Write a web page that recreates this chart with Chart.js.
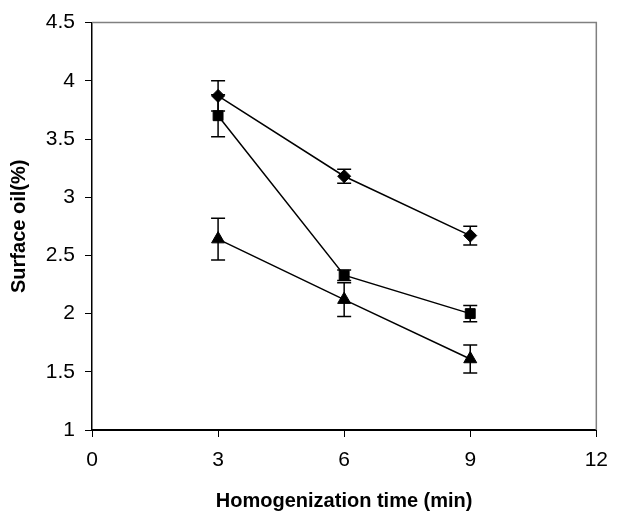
<!DOCTYPE html>
<html>
<head>
<meta charset="utf-8">
<script src="https://cdn.jsdelivr.net/npm/chart.js@4.4.1/dist/chart.umd.min.js"></script>
<style>
  html, body { margin: 0; padding: 0; background: #fff; }
  #wrap { width: 619px; height: 515px; }
</style>
</head>
<body>
<div id="wrap"><canvas id="surfaceChart" width="619" height="515"></canvas></div>
<script>
const times = [3, 6, 9];
const xTickValues = [0, 3, 6, 9, 12];
const yTickValues = [1, 1.5, 2, 2.5, 3, 3.5, 4, 4.5];

const diamondOil = [3.87, 3.18, 2.67];
const diamondErr = [0.13, 0.06, 0.08];
const squareOil = [3.70, 2.33, 2.00];
const squareErr = [0.18, 0.045, 0.07];
const triangleOil = [2.64, 2.12, 1.61];
const triangleErr = [0.18, 0.145, 0.12];

const FONT = "'Liberation Sans', Arial, sans-serif";

function toPoints(values) {
  return times.map((t, i) => ({ x: t, y: values[i] }));
}

function series(values, err, style, radius) {
  return {
    data: toPoints(values),
    errors: err,
    showLine: true,
    borderColor: "#000",
    borderWidth: 1.5,
    backgroundColor: "#000",
    pointStyle: style,
    pointRadius: radius,
    pointBorderWidth: 1,
    pointBorderColor: "#000",
    pointBackgroundColor: "#000",
  };
}

// error bars drawn before the lines/markers
const errorBars = {
  id: "errorBars",
  beforeDatasetsDraw(chart) {
    const { ctx, scales: { x, y } } = chart;
    ctx.save();
    ctx.strokeStyle = "#000";
    ctx.lineWidth = 1.5;
    chart.data.datasets.forEach((ds) => {
      ds.data.forEach((p, i) => {
        const e = ds.errors[i];
        const px = x.getPixelForValue(p.x);
        const top = y.getPixelForValue(p.y + e);
        const bot = y.getPixelForValue(p.y - e);
        ctx.beginPath();
        ctx.moveTo(px, top); ctx.lineTo(px, bot);
        ctx.moveTo(px - 7, top); ctx.lineTo(px + 7, top);
        ctx.moveTo(px - 7, bot); ctx.lineTo(px + 7, bot);
        ctx.stroke();
      });
    });
    ctx.restore();
  },
  afterDraw(chart) {
    // grey top and right frame of the plot area
    const { ctx, chartArea: a } = chart;
    ctx.save();
    ctx.strokeStyle = "#808080";
    ctx.lineWidth = 1.5;
    ctx.beginPath();
    ctx.moveTo(a.left, a.top);
    ctx.lineTo(a.right, a.top);
    ctx.lineTo(a.right, a.bottom);
    ctx.stroke();
    ctx.restore();
  },
};

new Chart(document.getElementById("surfaceChart"), {
  type: "scatter",
  data: {
    datasets: [
      series(diamondOil, diamondErr, "rectRot", 6.5),
      series(squareOil, squareErr, "rect", 7),
      series(triangleOil, triangleErr, "triangle", 7.5),
    ],
  },
  options: {
    responsive: false,
    animation: false,
    layout: { padding: { top: 20, right: 20, left: 0, bottom: 0 } },
    plugins: { legend: { display: false }, tooltip: { enabled: false } },
    scales: {
      x: {
        type: "linear",
        min: 0,
        max: 12,
        afterBuildTicks: (s) => { s.ticks = xTickValues.map((v) => ({ value: v })); },
        afterFit: (s) => { s.height = 85; },
        grid: { drawOnChartArea: false, tickLength: 7, color: "#000", tickWidth: 1 },
        border: { color: "#000", width: 2 },
        ticks: { color: "#000", padding: 11, font: { family: FONT, size: 21 }, callback: (v) => String(v), maxRotation: 0 },
        title: { display: true, text: "Homogenization time (min)", color: "#000", font: { family: FONT, size: 20, weight: "bold" }, padding: { top: 0, bottom: 2 } },
      },
      y: {
        type: "linear",
        min: 1,
        max: 4.5,
        afterBuildTicks: (s) => { s.ticks = yTickValues.map((v) => ({ value: v })); },
        afterFit: (s) => { s.width = 92; },
        grid: { drawOnChartArea: false, tickLength: 7, color: "#000", tickWidth: 1 },
        border: { color: "#000", width: 1.5 },
        ticks: { color: "#000", padding: 10, font: { family: FONT, size: 21 }, callback: (v) => String(v) },
        title: { display: true, text: "Surface oil(%)", color: "#000", font: { family: FONT, size: 20, weight: "bold" }, padding: { top: 7, bottom: 0 } },
      },
    },
  },
  plugins: [errorBars],
});
</script>
</body>
</html>
